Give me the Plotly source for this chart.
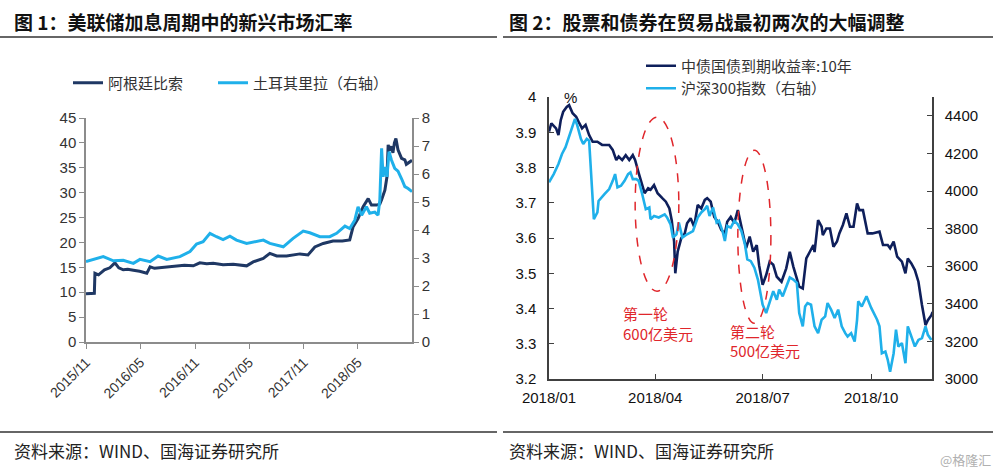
import pandas as pd
import plotly.graph_objects as go

# ---------------- data: figure 1 (days since 2015-11-01) ----------------
ars_base = "2015-11-01"
ars_days = [0, 28, 30, 42, 62, 80, 97, 110, 125, 140, 159, 180, 204, 215, 230, 248, 270, 304, 330, 360,
            382, 405, 427, 460, 494, 539, 561, 595, 617, 640, 673, 718, 745, 768, 796, 829, 860, 885,
            896, 913, 930, 947, 958, 975, 986, 992, 1003, 1010, 1014, 1020, 1025, 1030, 1035, 1040,
            1047, 1059, 1070, 1075, 1087, 1094]
ars_vals = [9.7, 9.8, 13.8, 13.5, 14.5, 14.9, 15.9, 14.9, 14.5, 14.6, 14.4, 14.2, 13.8, 15.1, 14.8, 14.9,
            15.0, 15.3, 15.4, 15.3, 15.9, 15.7, 15.8, 15.5, 15.6, 15.3, 16.1, 16.8, 17.8, 17.3, 17.3,
            17.7, 17.5, 19.1, 19.8, 20.3, 20.3, 20.5, 23.1, 24.8, 27.2, 28.8, 27.5, 27.5, 27.7, 28.6,
            30.5, 33.2, 39.6, 38.5, 39.3, 38.0, 40.0, 40.9, 38.6, 36.9, 36.6, 35.7, 36.3, 36.5]

try_days = [0, 25, 58, 92, 125, 159, 181, 215, 242, 271, 315, 349, 371, 393, 416, 438, 460, 483, 505,
            539, 570, 595, 617, 662, 695, 729, 751, 785, 818, 841, 869, 885, 902, 913, 925, 941, 952,
            969, 980, 986, 992, 997, 1003, 1010, 1017, 1025, 1036, 1047, 1059, 1070, 1081, 1094]
try_vals = [2.87, 2.95, 3.05, 2.90, 2.92, 2.81, 2.95, 2.87, 3.07, 2.95, 3.05, 3.23, 3.50, 3.58, 3.88,
            3.76, 3.66, 3.78, 3.64, 3.52, 3.60, 3.64, 3.52, 3.40, 3.70, 3.96, 3.90, 3.76, 3.76, 3.88,
            4.14, 4.05, 4.35, 4.83, 4.53, 4.83, 4.60, 4.64, 4.53, 5.07, 6.92, 5.90, 6.25, 5.90, 6.80,
            6.50, 6.20, 6.10, 5.83, 5.55, 5.48, 5.37]

# ---------------- data: figure 2 (days since 2018-01-01) ----------------
cn_base = "2018-01-01"
bond_days = [0, 2, 6, 8, 10, 12, 15, 17, 20, 23, 25, 28, 31, 34, 37, 41, 45, 51, 54, 57, 59, 62, 65, 68,
             71, 73, 76, 81, 84, 86, 89, 92, 96, 99, 102, 104, 106, 107, 109, 112, 115, 117, 120, 123,
             126, 129, 132, 134, 137, 140, 143, 146, 149, 151, 154, 157, 160, 163, 167, 170, 173, 176,
             178, 181, 184, 187, 190, 193, 197, 201, 204, 207, 212, 215, 218, 221, 224, 225, 228, 231,
             232, 235, 238, 241, 244, 246, 249, 252, 255, 258, 261, 263, 266, 270, 274, 280, 283, 287,
             289, 292, 295, 299, 302, 304, 307, 310, 313, 316, 319, 321, 324, 325]
bond_vals = [3.902, 3.925, 3.911, 3.892, 3.935, 3.958, 3.972, 3.977, 3.954, 3.944, 3.930, 3.911, 3.921,
             3.892, 3.873, 3.873, 3.864, 3.864, 3.850, 3.821, 3.831, 3.821, 3.835, 3.821, 3.835, 3.821,
             3.784, 3.727, 3.741, 3.737, 3.750, 3.727, 3.713, 3.703, 3.684, 3.650, 3.590, 3.500, 3.561,
             3.599, 3.613, 3.642, 3.656, 3.632, 3.694, 3.684, 3.708, 3.713, 3.703, 3.660, 3.646, 3.623,
             3.613, 3.646, 3.660, 3.642, 3.679, 3.632, 3.571, 3.604, 3.561, 3.580, 3.523, 3.467, 3.495,
             3.533, 3.524, 3.490, 3.476, 3.514, 3.561, 3.519, 3.462, 3.457, 3.542, 3.561, 3.580, 3.560,
             3.651, 3.632, 3.608, 3.627, 3.627, 3.575, 3.590, 3.613, 3.637, 3.670, 3.632, 3.632, 3.698,
             3.679, 3.679, 3.613, 3.613, 3.618, 3.580, 3.580, 3.571, 3.590, 3.547, 3.533, 3.500, 3.542,
             3.528, 3.509, 3.476, 3.410, 3.353, 3.367, 3.381, 3.390]

csi_days = [0, 4, 8, 11, 14, 17, 20, 22, 24, 27, 29, 32, 34, 35, 38, 41, 42, 47, 51, 54, 56, 58, 61, 64,
            67, 69, 71, 74, 76, 79, 82, 85, 86, 89, 93, 98, 100, 103, 105, 108, 110, 113, 117, 122, 126,
            129, 132, 134, 136, 139, 142, 144, 147, 149, 151, 154, 157, 160, 163, 166, 168, 171, 174,
            177, 179, 181, 184, 187, 190, 193, 195, 198, 201, 204, 207, 210, 212, 215, 217, 219, 222,
            225, 228, 231, 234, 236, 239, 242, 245, 248, 251, 253, 256, 259, 261, 262, 265, 269, 273,
            278, 280, 282, 285, 287, 289, 292, 294, 296, 299, 302, 304, 307, 310, 313, 316, 319, 321, 324]
csi_vals = [4046, 4090, 4144, 4197, 4233, 4286, 4340, 4384, 4348, 4277, 4250, 4277, 4268, 4161, 3850,
            3886, 3947, 3983, 4010, 4054, 4090, 4019, 4028, 4054, 4090, 4099, 4063, 4063, 4054, 3983,
            3903, 3912, 3850, 3867, 3859, 3876, 3859, 3823, 3752, 3770, 3832, 3752, 3770, 3787, 3859,
            3886, 3903, 3921, 3867, 3912, 3832, 3841, 3787, 3734, 3814, 3805, 3841, 3823, 3787, 3716,
            3636, 3627, 3592, 3529, 3467, 3395, 3351, 3413, 3467, 3422, 3476, 3440, 3485, 3540, 3529,
            3511, 3351, 3280, 3386, 3404, 3395, 3280, 3244, 3315, 3333, 3404, 3369, 3324, 3369, 3280,
            3244, 3226, 3244, 3199, 3315, 3413, 3386, 3440, 3378, 3315, 3280, 3137, 3146, 3102, 3039,
            3137, 3262, 3173, 3191, 3084, 3280, 3226, 3173, 3208, 3217, 3280, 3235, 3208]

# ---------------- text ----------------
title1 = "图 1：美联储加息周期中的新兴市场汇率"
title2 = "图 2：股票和债券在贸易战最初两次的大幅调整"
source_text = "资料来源：WIND、国海证券研究所"
name_ars = "阿根廷比索"
name_try = "土耳其里拉（右轴）"
name_bond = "中债国债到期收益率:10年"
name_csi = "沪深300指数（右轴）"
left_ticks = ["2015-11-01", "2016-05-01", "2016-11-01", "2017-05-01", "2017-11-01", "2018-05-01"]
right_ticks = ["2018-01-01", "2018-04-01", "2018-07-01", "2018-10-01"]

# annotation ellipses (date0, date1, y0, y1) and labels
ellipses = [("2018-03-15", "2018-04-21", 3.449, 3.943), ("2018-06-10", "2018-07-08", 3.358, 3.849)]
round_labels = [("2018-03-03", 3.387, "第一轮"), ("2018-03-03", 3.330, "600亿美元"),
                ("2018-06-02", 3.334, "第二轮"), ("2018-06-02", 3.280, "500亿美元")]


def to_dates(base, days):
    return pd.Timestamp(base) + pd.to_timedelta(days, unit="D")


CJK = "Noto Sans CJK SC"
NUM = "Liberation Sans, Arial, sans-serif"
DARK1 = "#1f3864"
DARK2 = "#0e1f5b"
LIGHT = "#1fb0ea"
RED = "#e0262b"

fig = go.Figure()
fig.add_trace(go.Scatter(x=to_dates(ars_base, ars_days), y=ars_vals, name=name_ars, mode="lines",
                         line=dict(color=DARK1, width=3), xaxis="x", yaxis="y", legend="legend"))
fig.add_trace(go.Scatter(x=to_dates(ars_base, try_days), y=try_vals, name=name_try, mode="lines",
                         line=dict(color=LIGHT, width=3), xaxis="x", yaxis="y2", legend="legend3"))
fig.add_trace(go.Scatter(x=to_dates(cn_base, bond_days), y=bond_vals, name=name_bond, mode="lines",
                         line=dict(color=DARK2, width=2.6), xaxis="x2", yaxis="y3", legend="legend2"))
fig.add_trace(go.Scatter(x=to_dates(cn_base, csi_days), y=csi_vals, name=name_csi, mode="lines",
                         line=dict(color=LIGHT, width=2.6), xaxis="x2", yaxis="y4", legend="legend2"))

W, H = 1000, 472


def px_x(p):
    return p / W


def px_y(p):
    return 1 - p / H


axis_grey = "#8c8c8c"
axis_dark = "#404040"
tick_font_l = dict(family=NUM, size=15, color="#333333")
tick_font_r = dict(family=NUM, size=15, color="#111111")
common = dict(showgrid=False, zeroline=False, automargin=False)
leg_font = dict(family=CJK, size=15, color="#333333")

fig.update_layout(
    width=W, height=H, margin=dict(l=0, r=0, t=0, b=0, autoexpand=False),
    paper_bgcolor="white", plot_bgcolor="white", showlegend=True,
    xaxis=dict(domain=[px_x(86), px_x(412)], anchor="y", range=["2015-11-01", "2018-10-30"],
               tickvals=left_ticks, tickformat="%Y/%m", tickangle=-45,
               tickfont=dict(family=NUM, size=14, color="#333333"),
               showline=True, linecolor=axis_grey, linewidth=1.5, ticks="outside", ticklen=5,
               tickcolor=axis_grey, **common),
    yaxis=dict(domain=[px_y(342), px_y(118)], anchor="x", range=[0, 45], dtick=5,
               tickfont=tick_font_l, showline=True, linecolor=axis_grey, linewidth=1.5,
               ticks="outside", ticklen=5, tickcolor=axis_grey, **common),
    yaxis2=dict(overlaying="y", anchor="x", side="right", range=[0, 8], dtick=1,
                tickfont=tick_font_l, showline=True, linecolor=axis_grey, linewidth=1.5,
                ticks="outside", ticklen=5, tickcolor=axis_grey, **common),
    xaxis2=dict(domain=[px_x(549), px_x(932)], anchor="y3", range=["2018-01-01", "2018-11-21 12:00"],
                tickvals=right_ticks, tickformat="%Y/%m", tickfont=tick_font_r,
                showline=True, linecolor=axis_dark, linewidth=1.5, ticks="inside", ticklen=5,
                tickcolor=axis_dark, ticklabelstandoff=4, **common),
    yaxis3=dict(domain=[px_y(379), px_y(97)], anchor="x2", range=[3.2, 4.0], dtick=0.1,
                tickfont=tick_font_r, showline=True, linecolor=axis_dark, linewidth=1.5,
                ticks="inside", ticklen=5, tickcolor=axis_dark, ticklabelstandoff=8, **common),
    yaxis4=dict(overlaying="y3", anchor="x2", side="right", range=[3000, 4500], dtick=200,
                tickfont=tick_font_r, showline=True, linecolor=axis_dark, linewidth=1.5,
                ticks="inside", ticklen=5, tickcolor=axis_dark, ticklabelstandoff=8, **common),
    legend=dict(x=px_x(68), xanchor="left", y=px_y(83), yanchor="middle", visible=True,
                font=leg_font, bgcolor="rgba(0,0,0,0)", itemwidth=30),
    legend3=dict(x=px_x(213), xanchor="left", y=px_y(83), yanchor="middle", visible=True,
                 font=leg_font, bgcolor="rgba(0,0,0,0)", itemwidth=30),
    legend2=dict(orientation="v", x=px_x(641), xanchor="left", y=px_y(77), yanchor="middle",
                 visible=True, font=leg_font, bgcolor="rgba(0,0,0,0)", tracegroupgap=0,
                 itemwidth=30),
)

# title rules and footer rules
for x0, x1 in [(0, 497), (503, 993)]:
    for yy in (37, 432):
        fig.add_shape(type="line", xref="paper", yref="paper", x0=px_x(x0), x1=px_x(x1),
                      y0=px_y(yy), y1=px_y(yy), line=dict(color="#333333", width=1.5))

for xp, txt in [(12, title1), (507, title2)]:
    fig.add_annotation(xref="paper", yref="paper", x=px_x(xp), y=px_y(22), xanchor="left",
                       yanchor="middle", showarrow=False, text="<b>" + txt + "</b>",
                       font=dict(family=CJK, size=19, color="#111111"))
for xp in (12, 507):
    fig.add_annotation(xref="paper", yref="paper", x=px_x(xp), y=px_y(450), xanchor="left",
                       yanchor="middle", showarrow=False, text=source_text,
                       font=dict(family=CJK, size=17, color="#222222"))

fig.add_annotation(xref="paper", yref="paper", x=px_x(993), y=px_y(459), xanchor="right",
                   yanchor="middle", showarrow=False, text="@格隆汇",
                   font=dict(family=CJK, size=13, color="#b0b0b0"))

fig.add_annotation(xref="paper", yref="paper", x=px_x(570), y=px_y(97), xanchor="center",
                   yanchor="middle", showarrow=False, text="%",
                   font=dict(family=NUM, size=15, color="#111111"))

for d0, d1, v0, v1 in ellipses:
    fig.add_shape(type="circle", xref="x2", yref="y3", x0=d0, x1=d1, y0=v0, y1=v1,
                  line=dict(color=RED, width=1.5, dash="dash"))
for d, v, txt in round_labels:
    fig.add_annotation(xref="x2", yref="y3", x=d, y=v, xanchor="left", yanchor="middle",
                       showarrow=False, text=txt, font=dict(family=CJK, size=15, color=RED))

fig.write_html("out.html", config={"displayModeBar": False},
               post_script="document.body.style.margin='0';")
